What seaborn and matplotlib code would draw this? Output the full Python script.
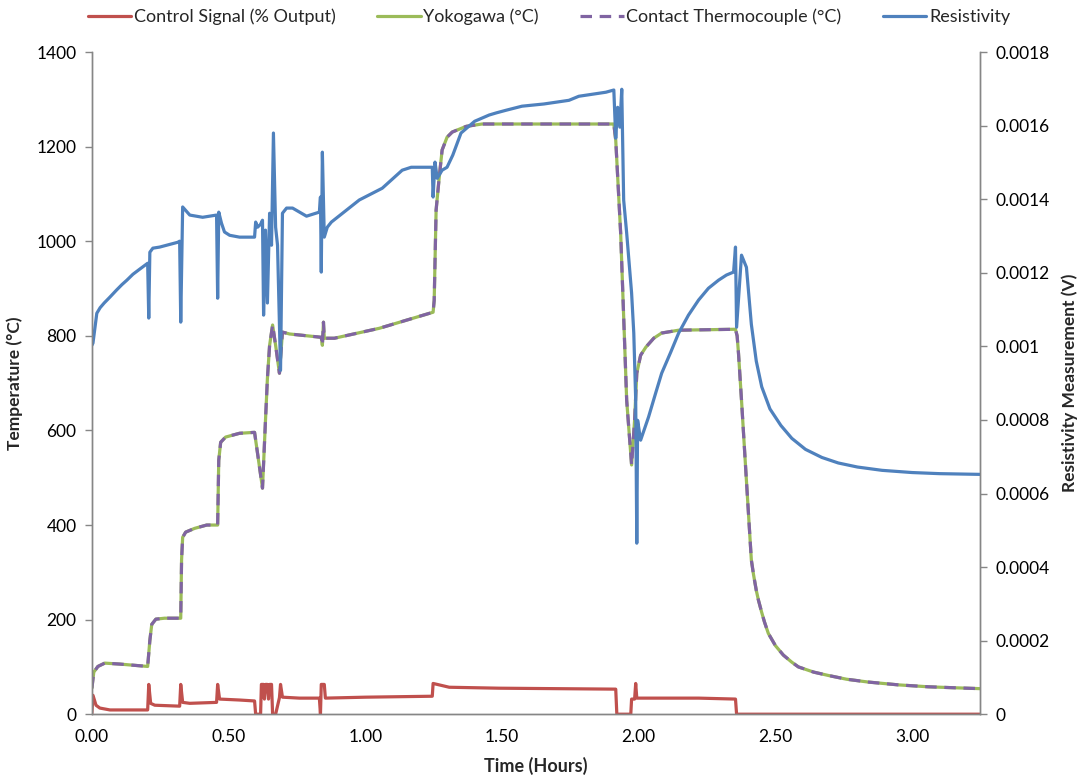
import numpy as np
import pandas as pd
import matplotlib
matplotlib.use("Agg")
import matplotlib.pyplot as plt
from matplotlib.ticker import FixedLocator, FuncFormatter
import seaborn as sns

# ---- data -------------------------------------------------------------
# Heating run: control output, furnace (Yokogawa) and contact thermocouple
# temperatures on the left axis, resistivity voltage on the right axis.

control_time = [0.000, 0.004, 0.015, 0.029, 0.066, 0.204, 0.208, 0.215, 0.230, 0.321,
                0.325, 0.332, 0.358, 0.456, 0.460, 0.467, 0.540, 0.595, 0.599, 0.617,
                0.620, 0.628, 0.631, 0.635, 0.642, 0.646, 0.650, 0.657, 0.661, 0.672,
                0.686, 0.690, 0.697, 0.759, 0.832, 0.836, 0.839, 0.850, 0.854, 1.000,
                1.245, 1.248, 1.263, 1.307, 1.489, 1.916, 1.920, 1.971, 1.974, 1.985,
                1.989, 1.993, 2.219, 2.354, 2.358, 3.250]
control_pct = [2, 40, 19, 13, 9, 9, 63, 23, 19, 17,
               63, 25, 23, 25, 63, 32, 30, 28, 0, 0,
               63, 63, 32, 63, 63, 32, 63, 63, 0, 0,
               35, 63, 36, 34, 34, 0, 63, 63, 34, 36,
               38, 65, 63, 57, 55, 53, 0, 0, 32, 32,
               65, 34, 34, 32, 0, 0]

temp_time = [0.000, 0.007, 0.022, 0.047, 0.102, 0.204, 0.212, 0.219, 0.234, 0.266,
             0.325, 0.328, 0.332, 0.343, 0.376, 0.420, 0.460, 0.464, 0.471, 0.489,
             0.540, 0.595, 0.624, 0.635, 0.642, 0.650, 0.661, 0.672, 0.686, 0.697,
             0.723, 0.839, 0.843, 0.847, 0.850, 0.887, 1.051, 1.248, 1.252, 1.259,
             1.270, 1.281, 1.299, 1.318, 1.369, 1.427, 1.909, 1.916, 1.934, 1.956,
             1.974, 1.985, 1.993, 2.007, 2.026, 2.055, 2.084, 2.146, 2.354, 2.360,
             2.365, 2.376, 2.391, 2.412, 2.420, 2.430, 2.438, 2.450, 2.460, 2.474,
             2.500, 2.529, 2.560, 2.584, 2.640, 2.693, 2.760, 2.839, 2.950, 3.058,
             3.150, 3.250]
yokogawa_c = [55, 89, 101, 108, 106, 101, 156, 190, 201, 203,
              203, 326, 374, 385, 393, 400, 400, 537, 575, 586,
              594, 596, 478, 622, 710, 780, 823, 780, 721, 808,
              804, 797, 780, 829, 795, 795, 816, 850, 875, 1066,
              1133, 1193, 1220, 1231, 1243, 1248, 1248, 1214, 1017, 664,
              527, 622, 721, 759, 776, 795, 806, 812, 814, 800,
              763, 664, 522, 326, 295, 262, 241, 215, 195, 171,
              145, 125, 110, 100, 89, 82, 74, 68, 62, 58,
              56, 54]
contact_tc_c = [55, 89, 101, 108, 106, 101, 156, 190, 201, 203,
                203, 326, 374, 385, 393, 400, 400, 537, 575, 586,
                594, 596, 478, 622, 710, 780, 823, 780, 721, 808,
                804, 797, 780, 829, 795, 795, 816, 850, 875, 1066,
                1133, 1193, 1220, 1231, 1243, 1248, 1248, 1214, 1017, 664,
                527, 622, 721, 759, 776, 795, 806, 812, 814, 800,
                763, 664, 522, 326, 295, 262, 241, 215, 195, 171,
                145, 125, 110, 100, 89, 82, 74, 68, 62, 58,
                56, 54]

res_time = [0.000, 0.004, 0.018, 0.030, 0.045, 0.066, 0.090, 0.110, 0.128, 0.150,
            0.175, 0.204, 0.208, 0.212, 0.223, 0.248, 0.314, 0.321, 0.325, 0.332,
            0.358, 0.405, 0.456, 0.460, 0.464, 0.474, 0.485, 0.504, 0.540, 0.595,
            0.599, 0.606, 0.617, 0.624, 0.628, 0.635, 0.642, 0.650, 0.657, 0.664,
            0.672, 0.679, 0.690, 0.697, 0.712, 0.734, 0.785, 0.832, 0.836, 0.839,
            0.843, 0.850, 0.861, 0.876, 0.978, 1.062, 1.135, 1.168, 1.245, 1.248,
            1.255, 1.263, 1.281, 1.299, 1.320, 1.350, 1.400, 1.453, 1.480, 1.515,
            1.573, 1.653, 1.745, 1.781, 1.880, 1.909, 1.916, 1.923, 1.931, 1.938,
            1.945, 1.956, 1.974, 1.982, 1.989, 1.993, 1.996, 2.007, 2.036, 2.062,
            2.084, 2.117, 2.146, 2.182, 2.219, 2.255, 2.292, 2.321, 2.347, 2.354,
            2.358, 2.376, 2.394, 2.412, 2.430, 2.450, 2.480, 2.520, 2.560, 2.610,
            2.670, 2.730, 2.800, 2.890, 3.000, 3.100, 3.250]
resistivity_v = [0.001003, 0.001009, 0.001090, 0.001105, 0.001118, 0.001134, 0.001153, 0.001168, 0.001180, 0.001196,
                 0.001210, 0.001226, 0.001077, 0.001256, 0.001267, 0.001270, 0.001283, 0.001286, 0.001066, 0.001379,
                 0.001357, 0.001351, 0.001357, 0.001131, 0.001365, 0.001335, 0.001311, 0.001302, 0.001297, 0.001297,
                 0.001338, 0.001324, 0.001332, 0.001343, 0.001085, 0.001316, 0.001118, 0.001362, 0.001275, 0.001580,
                 0.001324, 0.001275, 0.000935, 0.001362, 0.001376, 0.001376, 0.001354, 0.001365, 0.001406, 0.001202,
                 0.001528, 0.001297, 0.001324, 0.001338, 0.001398, 0.001430, 0.001479, 0.001487, 0.001487, 0.001406,
                 0.001501, 0.001457, 0.001479, 0.001487, 0.001520, 0.001580, 0.001612, 0.001629, 0.001635, 0.001642,
                 0.001653, 0.001659, 0.001669, 0.001680, 0.001691, 0.001697, 0.001566, 0.001650, 0.001596, 0.001699,
                 0.001398, 0.001308, 0.001145, 0.001036, 0.000854, 0.000465, 0.000799, 0.000745, 0.000808, 0.000873,
                 0.000927, 0.000984, 0.001036, 0.001085, 0.001126, 0.001158, 0.001180, 0.001194, 0.001202, 0.001270,
                 0.001052, 0.001248, 0.001215, 0.001060, 0.000960, 0.000890, 0.000830, 0.000785, 0.000750, 0.000720,
                 0.000698, 0.000683, 0.000672, 0.000663, 0.000657, 0.000654, 0.000652]

x_ticks = [0.0, 0.5, 1.0, 1.5, 2.0, 2.5, 3.0]
temp_ticks = [0, 200, 400, 600, 800, 1000, 1200, 1400]
res_ticks = [0.0, 0.0002, 0.0004, 0.0006, 0.0008, 0.0010, 0.0012, 0.0014, 0.0016, 0.0018]

# ---- styling ----------------------------------------------------------
sns.set_theme(style="white")
plt.rcParams["font.family"] = ["Lato", "DejaVu Sans"]

RED = "#C0504D"
GREEN = "#9BBB59"
PURPLE = "#8064A2"
BLUE = "#4F81BD"
AXIS_GREY = "#868686"
LW = 2.3

fig = plt.figure(figsize=(10.81, 7.78), dpi=100)
ax = fig.add_axes([0.085, 0.082, 0.822, 0.851])
ax2 = ax.twinx()

control_df = pd.DataFrame({"time": control_time, "value": control_pct})
yoko_df = pd.DataFrame({"time": temp_time, "value": yokogawa_c})
tc_df = pd.DataFrame({"time": temp_time, "value": contact_tc_c})
res_df = pd.DataFrame({"time": res_time, "value": resistivity_v})

sns.lineplot(data=control_df, x="time", y="value", ax=ax, color=RED, lw=LW,
             estimator=None, sort=False, label="Control Signal (% Output)", legend=False)
sns.lineplot(data=yoko_df, x="time", y="value", ax=ax, color=GREEN, lw=LW,
             estimator=None, sort=False, label="Yokogawa (°C)", legend=False)
sns.lineplot(data=tc_df, x="time", y="value", ax=ax, color=PURPLE, lw=LW,
             estimator=None, sort=False, label="Contact Thermocouple (°C)", legend=False,
             dashes=False)
ax.lines[-1].set_dashes([3.6, 2.4])
sns.lineplot(data=res_df, x="time", y="value", ax=ax2, color=BLUE, lw=LW,
             estimator=None, sort=False, label="Resistivity", legend=False)

for line in ax.lines + ax2.lines:
    line.set_solid_capstyle("round")
    line.set_solid_joinstyle("round")

# axes limits and ticks
ax.set_xlim(0, 3.25)
ax.set_ylim(0, 1400)
ax2.set_ylim(0, 0.0018)
ax.xaxis.set_major_locator(FixedLocator(x_ticks))
ax.xaxis.set_major_formatter(FuncFormatter(lambda v, p: f"{v:.2f}"))
ax.yaxis.set_major_locator(FixedLocator(temp_ticks))
ax2.yaxis.set_major_locator(FixedLocator(res_ticks))


def res_fmt(v, pos):
    s = f"{v:.4f}".rstrip("0").rstrip(".")
    return s if s else "0"


ax2.yaxis.set_major_formatter(FuncFormatter(res_fmt))

for a in (ax, ax2):
    a.spines["top"].set_visible(False)
    for side in ("left", "right", "bottom"):
        a.spines[side].set_color(AXIS_GREY)
        a.spines[side].set_linewidth(1.0)
    a.tick_params(axis="both", which="major", direction="out", length=5,
                  width=1.0, color=AXIS_GREY, labelsize=12.5, labelcolor="black", pad=6)
    a.grid(False)

ax.set_xlabel("Time (Hours)", fontsize=13, fontweight="bold", labelpad=8)
ax.set_ylabel("Temperature (°C)", fontsize=12.5, fontweight="bold", labelpad=10)
ax2.set_ylabel("Resistivity Measurement (V)", fontsize=12.5, fontweight="bold", labelpad=8)

handles = ax.lines[:3] + ax2.lines[:1]
labels = [h.get_label() for h in handles]
fig.legend(handles, labels, loc="center", bbox_to_anchor=(0.508, 0.978), ncol=4,
           frameon=False, fontsize=13, handlelength=2.4, handletextpad=0.15,
           columnspacing=2.3)

fig.savefig("out.png", dpi=100)
